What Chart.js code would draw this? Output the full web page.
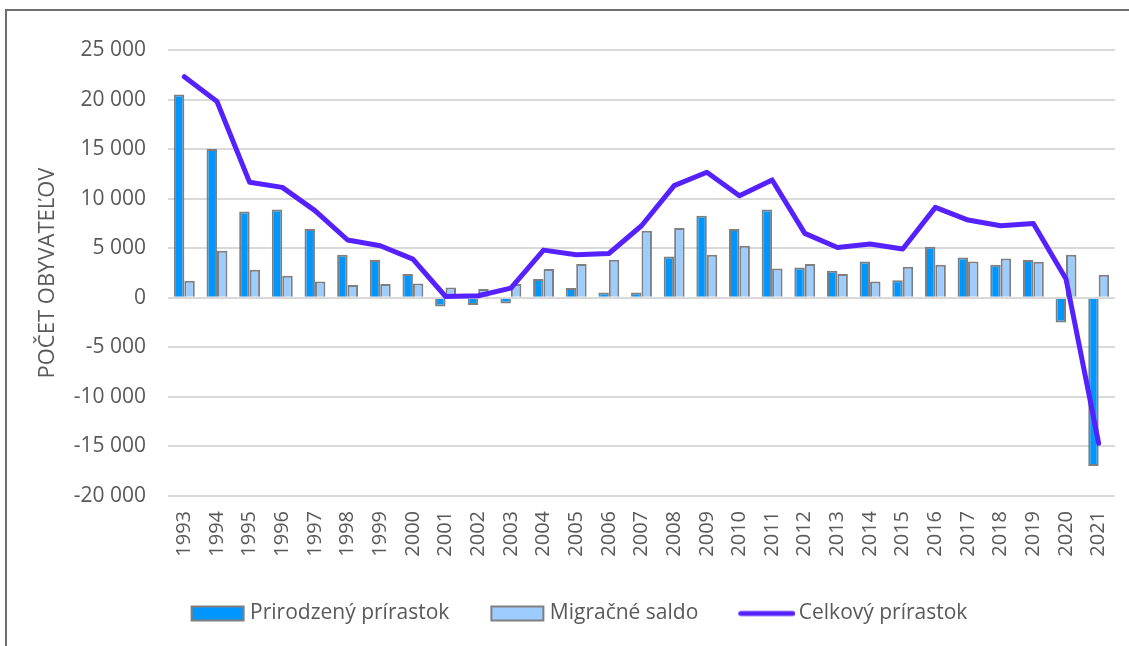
<!DOCTYPE html>
<html>
<head>
<meta charset="utf-8">
<script src="https://cdn.jsdelivr.net/npm/chart.js@4.4.1/dist/chart.umd.min.js"></script>
<style>
  html, body { margin: 0; padding: 0; background: #ffffff; }
  #c { display: block; }
</style>
</head>
<body>
<canvas id="c" width="1129" height="646"></canvas>
<script>
// ---- Data ----
const years = ['1993','1994','1995','1996','1997','1998','1999','2000','2001','2002','2003','2004','2005','2006','2007','2008','2009','2010','2011','2012','2013','2014','2015','2016','2017','2018','2019','2020','2021'];
const naturalIncrease = [20500, 15000, 8700, 8900, 6950, 4350, 3800, 2400, -880, -740, -570, 1900, 980, 540, 540, 4170, 8280, 6950, 8900, 3060, 2730, 3670, 1780, 5150, 4070, 3330, 3800, -2490, -16970];
const migrationBalance = [1720, 4750, 2830, 2220, 1650, 1280, 1380, 1450, 1040, 880, 1380, 2900, 3400, 3840, 6770, 7040, 4340, 5250, 2960, 3400, 2390, 1650, 3130, 3330, 3670, 3970, 3640, 4340, 2320];
const totalIncrease = [22300, 19800, 11650, 11140, 8790, 5830, 5250, 3900, 130, 200, 980, 4810, 4340, 4470, 7270, 11310, 12660, 10300, 11890, 6500, 5080, 5420, 4920, 9120, 7840, 7270, 7500, 1890, -14680];
const seriesNames = ['Prirodzený prírastok', 'Migračné saldo', 'Celkový prírastok'];
const axisTitle = 'POČET OBYVATEĽOV';
const yMin = -20000, yMax = 25000, yStep = 5000;

// ---- Styles ----
const C_NAT = '#0096FF';
const C_MIG = '#9DCDFF';
const C_EDGE = '#7F7F7F';
const C_LINE = '#5522FF';
const C_TEXT = '#595959';
const C_GRID = '#D9D9D9';

Chart.defaults.font.family = "'Open Sans', 'DejaVu Sans', sans-serif";
Chart.defaults.font.size = 20;
Chart.defaults.color = C_TEXT;

// legend icons
const BOXW = 80;
function makeIcon(kind) {
  const cv = document.createElement('canvas');
  cv.width = BOXW + 14; cv.height = 18;
  const g = cv.getContext('2d');
  if (kind === 'line') {
    g.strokeStyle = C_LINE; g.lineWidth = 5; g.lineCap = 'round';
    g.beginPath(); g.moveTo(cv.width - 57 + 2.5, 9); g.lineTo(cv.width - 2.5, 9); g.stroke();
  } else {
    g.fillStyle = kind === 'nat' ? C_NAT : C_MIG;
    g.strokeStyle = C_EDGE; g.lineWidth = 2;
    const x0 = cv.width - 3 - 52;
    g.fillRect(x0, 2, 52, 14);
    g.strokeRect(x0, 2, 52, 14);
  }
  return cv;
}
const icons = [makeIcon('nat'), makeIcon('mig'), makeIcon('line')];

const fmt = v => {
  const s = Math.abs(v).toString().replace(/\B(?=(\d{3})+(?!\d))/g, ' ');
  return (v < 0 ? '-' : '') + s;
};

const framePlugin = {
  id: 'frame',
  beforeDraw(chart) {
    const ctx = chart.ctx;
    ctx.save();
    ctx.fillStyle = '#ffffff';
    ctx.fillRect(0, 0, chart.width, chart.height);
    ctx.strokeStyle = '#6E6E6E';
    ctx.lineWidth = 2;
    ctx.beginPath();
    ctx.moveTo(6, chart.height);
    ctx.lineTo(6, 10);
    ctx.lineTo(chart.width, 10);
    ctx.stroke();
    ctx.restore();
  }
};

new Chart(document.getElementById('c'), {
  type: 'bar',
  data: {
    labels: years,
    datasets: [
      {
        type: 'bar', label: seriesNames[0], data: naturalIncrease,
        backgroundColor: C_NAT, borderColor: C_EDGE, borderWidth: 2,
        barPercentage: 1.0, categoryPercentage: 0.64, order: 1
      },
      {
        type: 'bar', label: seriesNames[1], data: migrationBalance,
        backgroundColor: C_MIG, borderColor: C_EDGE, borderWidth: 2,
        barPercentage: 1.0, categoryPercentage: 0.64, order: 1
      },
      {
        type: 'line', label: seriesNames[2], data: totalIncrease,
        borderColor: C_LINE, backgroundColor: C_LINE, borderWidth: 5,
        pointRadius: 0, tension: 0, borderJoinStyle: 'round', borderCapStyle: 'round',
        order: 0
      }
    ]
  },
  options: {
    responsive: false,
    animation: false,
    devicePixelRatio: 1,
    layout: { padding: { top: 50, right: 14, bottom: 12, left: 12 } },
    plugins: {
      tooltip: { enabled: false },
      legend: {
        position: 'bottom',
        labels: {
          usePointStyle: true,
          pointStyleWidth: BOXW,
          padding: 10,
          color: C_TEXT,
          font: { size: 21 },
          sort: (a, b) => a.datasetIndex - b.datasetIndex,
          generateLabels(chart) {
            const items = Chart.defaults.plugins.legend.labels.generateLabels(chart);
            items.forEach(it => { it.pointStyle = icons[it.datasetIndex]; });
            return items;
          }
        }
      }
    },
    scales: {
      x: {
        grid: { display: false, drawTicks: false },
        border: { display: false },
        ticks: { autoSkip: false, maxRotation: 90, minRotation: 90, padding: 15, color: C_TEXT, font: { size: 20 } },
        afterFit(s) { s.height = 97; s.paddingLeft = 0; s.paddingRight = 0; }
      },
      y: {
        min: yMin, max: yMax,
        grid: { color: C_GRID, lineWidth: 2, drawTicks: false },
        border: { display: false },
        ticks: { stepSize: yStep, padding: 22, color: C_TEXT, font: { size: 21 }, callback: v => fmt(v) },
        title: { display: true, text: axisTitle, color: C_TEXT, font: { size: 22 }, padding: { top: 23, bottom: 0 } },
        afterFit(s) { s.width = 156; }
      }
    }
  },
  plugins: [framePlugin]
});
</script>
</body>
</html>
